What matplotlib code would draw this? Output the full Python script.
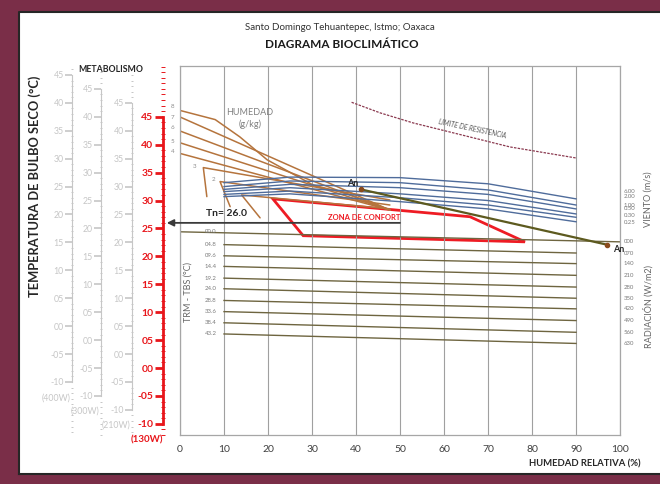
import matplotlib
matplotlib.use('Agg')
from matplotlib import pyplot as plt
from matplotlib.patches import Rectangle, Polygon
from matplotlib.lines import Line2D
from matplotlib.ticker import MultipleLocator

plt.rcParams['font.family'] = ['Lato', 'DejaVu Sans']

W, H = 660, 484

# ---------------- values ----------------
rh_ticks = [0, 10, 20, 30, 40, 50, 60, 70, 80, 90, 100]
scale_ticks = [-10, -5, 0, 5, 10, 15, 20, 25, 30, 35, 40, 45]
scale_offsets = [7.5, 5.0, 2.5, 0.0]          # metabolism columns, shift in degC
scale_units = ['(400W)', '(300W)', '(210W)', '(130W)']

# humidity (g/kg) lines, RH % vs degC
hum_x = [[0.2, 8.0, 13.6, 19.8, 30.2, 38.0, 47.7],
         [0.2, 47.7],
         [0.2, 47.7],
         [0.2, 47.7],
         [0.2, 47.7],
         [6.1, 5.3, 47.7],
         [11.4, 9.1, 47.7],
         [18.2, 14.0, 47.7]]
hum_y = [[46.1, 44.5, 41.4, 37.3, 32.8, 31.2, 28.3],
         [44.9, 28.3],
         [42.4, 28.3],
         [40.3, 28.3],
         [38.4, 28.3],
         [30.7, 35.9, 30.1],
         [28.9, 33.4, 29.2],
         [26.9, 31.0, 28.5]]
hum_labels = ['8', '7', '6', '5', '4', '3', '2']
hum_label_x = [-1.7, -1.7, -1.7, -1.7, -1.7, 3.4, 7.6]
hum_label_y = [46.9, 44.9, 43.0, 40.6, 38.8, 36.1, 33.7]

# wind (m/s) lines
wind_x = [10, 25, 50, 70, 90]
wind_y = [[33.2, 34.2, 34.1, 33.0, 30.3],
          [32.5, 33.5, 33.2, 31.9, 29.2],
          [32.0, 32.9, 32.3, 31.1, 28.5],
          [31.6, 32.3, 31.2, 30.0, 27.6],
          [31.1, 31.7, 30.5, 29.2, 27.0],
          [30.7, 31.2, 29.8, 28.5, 26.2]]
wind_labels = ['6.00', '2.00', '1.00', '0.50', '0.30', '0.25']
wind_label_y = [31.6, 30.7, 29.2, 28.5, 27.3, 26.0]

# radiation lines (TRM - TBS) and W/m2
rad_x_left = [0, 10, 10, 10, 10, 10, 10, 10, 10, 10]
rad_x_right = [100, 90, 90, 90, 90, 90, 90, 90, 90, 90]
rad_y_left = [24.4, 22.1, 20.1, 18.2, 16.1, 14.2, 12.1, 10.1, 8.1, 6.1]
rad_y_right = [22.6, 20.6, 18.7, 16.6, 14.5, 12.5, 10.6, 8.5, 6.4, 4.4]
rad_left_labels = ['00.0', '04.8', '09.6', '14.4', '19.2', '24.0', '28.8', '33.6', '38.4', '43.2']
rad_right_labels = ['000', '070', '140', '210', '280', '350', '420', '490', '560', '630']

# comfort zone
confort_x = [21.1, 65.9, 78.4, 28.0]
confort_y = [30.3, 27.1, 22.6, 23.7]

# limite de resistencia
limite_x = [39.0, 45.5, 53.0, 60.7, 75.0, 90.2]
limite_y = [47.6, 45.7, 43.9, 42.4, 39.6, 37.6]

# An points
an_x = [41.1, 97.0]
an_y = [32.0, 22.1]

tn_value = 26.0

# ---------------- figure ----------------
fig = plt.figure(figsize=(W / 100, H / 100), dpi=100)
fig.patch.set_facecolor('white')
maroon = '#7a2e48'
# frame bands: top, left, bottom (right side is cut off in the original)
for x0, y0, w, h in [(0, 1 - 12 / H, 1, 12 / H), (0, 0, 19 / W, 1), (0, 0, 1, 10 / H)]:
    fig.add_artist(Rectangle((x0, y0), w, h, transform=fig.transFigure,
                             facecolor=maroon, edgecolor='none', zorder=-5))
fig.add_artist(Line2D([19 / W, 19 / W, 1], [10 / H, 1 - 12 / H, 1 - 12 / H],
                      transform=fig.transFigure, color='#262626', lw=1.5, zorder=-4))
fig.add_artist(Line2D([19 / W, 1], [10 / H, 10 / H],
                      transform=fig.transFigure, color='#262626', lw=1.5, zorder=-4))

ylo, yhi = -12.0, 54.1
box = [180 / W, (H - 435) / H, 440 / W, 369 / H]
ax = fig.add_axes(box)
ax.set_xlim(0, 100)
ax.set_ylim(ylo, yhi)
ax.patch.set_visible(False)
for s in ax.spines.values():
    s.set_color('#a6a6a6')
    s.set_linewidth(0.9)
ax.set_xticks(rh_ticks)
ax.set_yticks([])
ax.tick_params(axis='x', length=0, pad=7, labelsize=7.5, labelcolor='#404040')
ax.grid(axis='x', color='#a0a0a0', lw=0.8)

# humidity lines
for xs, ys in zip(hum_x, hum_y):
    ax.plot(xs, ys, color='#b5743d', lw=1.1, solid_capstyle='round')
for lab, x, y in zip(hum_labels, hum_label_x, hum_label_y):
    ax.text(x, y, lab, fontsize=4.5, color='#8c8c8c', ha='center', va='center', clip_on=False)
ax.text(15.9, 45.7, 'HUMEDAD', fontsize=6.5, color='#808080', ha='center', va='center')
ax.text(15.9, 43.6, '(g/kg)', fontsize=6.5, color='#808080', ha='center', va='center')

# wind lines
for ys in wind_y:
    ax.plot(wind_x, ys, color='#4f6c9b', lw=1.0)
for lab, y in zip(wind_labels, wind_label_y):
    ax.text(100.9, y, lab, fontsize=4.3, color='#7a7a7a', ha='left', va='center', clip_on=False)
ax.text(106.4, 30.3, 'VIENTO (m/s)', rotation=90, fontsize=6.5, color='#666666',
        ha='center', va='center', clip_on=False)

# radiation lines
for x0, x1, y0, y1 in zip(rad_x_left, rad_x_right, rad_y_left, rad_y_right):
    ax.plot([x0, x1], [y0, y1], color='#6e6540', lw=1.0)
for lab, y in zip(rad_left_labels, rad_y_left):
    ax.text(7.0, y, lab, fontsize=4.3, color='#7a7a7a', ha='center', va='center')
for lab, y in zip(rad_right_labels, rad_y_right):
    ax.text(100.9, y, lab, fontsize=4.3, color='#7a7a7a', ha='left', va='center', clip_on=False)
ax.text(106.4, 11.1, 'RADIACIÓN (W/m2)', rotation=90, fontsize=6.5, color='#666666',
        ha='center', va='center', clip_on=False)
ax.text(1.8, 13.6, 'TRM - TBS (°C)', rotation=90, fontsize=6.5, color='#666666',
        ha='center', va='center')

# limite de resistencia
ax.plot(limite_x, limite_y, color='#8b3a50', lw=0.9, ls=(0, (2, 1)))
ax.text(66.4, 42.9, 'LIMITE DE RESISTENCIA', rotation=-12, fontsize=4.8, style='italic',
        color='#555555', ha='center', va='center')

# comfort zone
ax.add_patch(Polygon(list(zip(confort_x, confort_y)), closed=True, fill=False,
                     edgecolor='#ee1c24', lw=2.0, joinstyle='miter'))
ax.text(41.8, 26.9, 'ZONA DE CONFORT', fontsize=5.5, fontweight='bold', color='#ee1c24',
        ha='center', va='center')

# An line
ax.plot(an_x, an_y, color='#5d5a1f', lw=1.6)
ax.plot(an_x, an_y, 'o', color='#8a4a1c', ms=3, clip_on=False)
ax.text(39.3, 33.0, 'An', fontsize=6.5, fontweight='bold', color='#262626', ha='center', va='center')
ax.text(99.6, 21.3, 'An', fontsize=6.5, fontweight='bold', color='#262626', ha='center',
        va='center', clip_on=False)

# Tn arrow
ax.annotate('', xy=(-3.0, tn_value), xytext=(50, tn_value), annotation_clip=False,
            arrowprops=dict(arrowstyle='-|>', color='#3a3a3a', lw=1.3, shrinkA=0, shrinkB=0,
                            mutation_scale=10))
ax.text(10.5, 27.6, f'Tn= {tn_value:.1f}', fontsize=7.5, fontweight='bold', color='#262626',
        ha='center', va='center')

# metabolism temperature scales
spine_px = [72, 101, 132, 163]
for off, unit, xp in zip(scale_offsets, scale_units, spine_px):
    red = off == 0.0
    col = '#e8161b' if red else '#c6c6c6'
    sa = fig.add_axes([xp / W, box[1], 20 / W, box[3]])
    sa.set_xlim(0, 1)
    sa.set_ylim(ylo - off, yhi - off)
    sa.patch.set_visible(False)
    for k in ['top', 'right', 'bottom']:
        sa.spines[k].set_visible(False)
    sa.spines['left'].set_color(col)
    sa.spines['left'].set_linewidth(2.0 if red else 0.8)
    sa.spines['left'].set_bounds(-10, 45)
    sa.set_xticks([])
    sa.set_yticks(scale_ticks)
    sa.set_yticklabels([f'{v:02d}' if v >= 0 else f'{v:03d}' for v in scale_ticks])
    sa.yaxis.set_minor_locator(MultipleLocator(1))
    sa.tick_params(which='major', length=6 if red else 5, width=2.0 if red else 1.2, color=col,
                   labelcolor=col, labelsize=7.5 if red else 6.3, pad=1)
    sa.tick_params(which='minor', length=3 if red else 2, width=0.7, color=col, direction='inout')
    for lab in sa.get_yticklabels():
        lab.set_fontweight('bold' if red else 'normal')
    sa.text(-0.8, -12.8, unit, fontsize=7 if red else 6.3, color=col,
            fontweight='bold' if red else 'normal',
            ha='center', va='center', transform=sa.get_yaxis_transform(), clip_on=False)

# titles and axis labels
fig.text(340 / W, 1 - 27 / H, 'Santo Domingo Tehuantepec, Istmo; Oaxaca', fontsize=7,
         color='#333333', ha='center', va='center')
fig.text(342 / W, 1 - 45 / H, 'DIAGRAMA BIOCLIMÁTICO', fontsize=8.5, fontweight='bold',
         color='#1a1a1a', ha='center', va='center')
fig.text(111 / W, 1 - 70 / H, 'METABOLISMO', fontsize=6.3, fontweight='bold', color='#262626',
         ha='center', va='center')
fig.text(35 / W, 1 - 186 / H, 'TEMPERATURA DE BULBO SECO (°C)', rotation=90, fontsize=9.3,
         fontweight='bold', color='#262626', ha='center', va='center')
fig.text(585 / W, 1 - 464 / H, 'HUMEDAD RELATIVA (%)', fontsize=6.8, fontweight='bold',
         color='#262626', ha='center', va='center')

fig.savefig('out.png', dpi=100, facecolor=fig.get_facecolor())
